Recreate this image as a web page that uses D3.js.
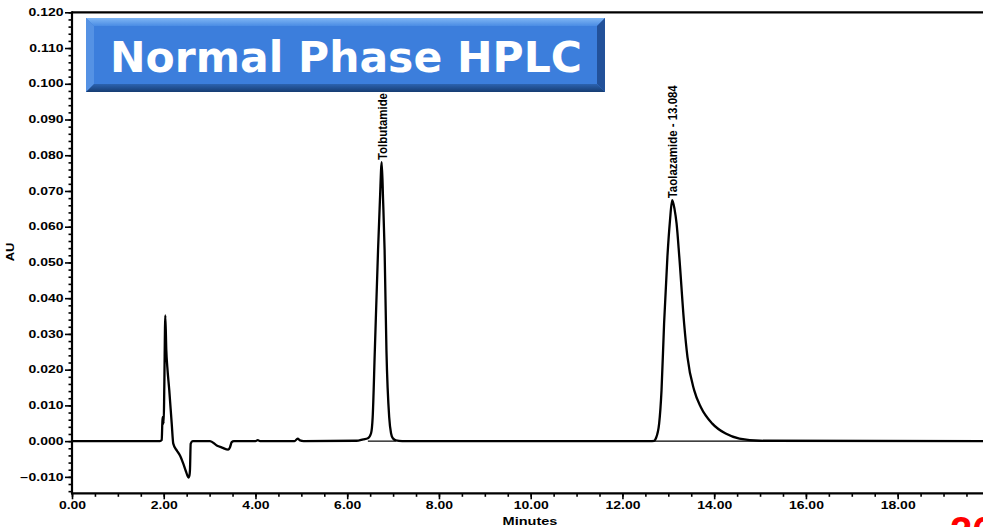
<!DOCTYPE html>
<html><head><meta charset="utf-8">
<script src="https://cdn.jsdelivr.net/npm/d3@7"></script>
<style>body{margin:0;background:#fff;overflow:hidden} svg{display:block}</style>
</head><body>
<svg id="c" width="983" height="527"></svg>
<script>
// ---- data ----
const times = [0, 1.0, 1.918, 1.956, 1.969, 1.977, 1.999, 2.012, 2.034, 2.056, 2.078, 2.121, 2.174, 2.208, 2.283, 2.354, 2.426, 2.485, 2.540, 2.562, 2.572, 2.588, 2.631,
  3.009, 3.155, 3.270, 3.407, 3.445, 3.482, 3.530, 4.00, 4.05, 4.10, 4.85, 4.92, 4.97, 5.05,
  6.20, 6.35, 6.45, 6.52, 6.555, 6.602, 6.672, 6.713, 6.752, 6.782, 6.815, 6.855, 6.915, 6.955, 6.995, 7.06, 7.20,
  12.60, 12.69, 12.73, 12.80, 12.852, 12.908, 12.98, 13.035, 13.084, 13.135, 13.18, 13.24, 13.345, 13.418, 13.565, 13.71, 13.96, 14.25, 14.55, 15.00, 20.0];
const absorbance = [0, 0, 0, 0.0003, 0.0050, 0.0067, 0.0049, 0.0150, 0.0352, 0.0254, 0.0207, 0.0142, 0.0049, -0.0007, -0.0026, -0.0040, -0.0063, -0.0085, -0.0102, -0.0095, -0.0080, -0.0007, 0,
  0, -0.0012, -0.0018, -0.0024, -0.0017, -0.0003, 0, 0, 0.0003, 0, 0, 0.0007, 0.0002, 0,
  0.0001, 0.0005, 0.0008, 0.0022, 0.0067, 0.0254, 0.0534, 0.0674, 0.0781, 0.0674, 0.0534, 0.0254, 0.0067, 0.0022, 0.0008, 0.0002, 0,
  0, 0.0001, 0.0008, 0.0049, 0.0142, 0.0329, 0.0515, 0.0615, 0.0674, 0.0650, 0.0609, 0.0515, 0.0329, 0.0235, 0.0142, 0.0095, 0.0049, 0.0021, 0.0007, 0.0001, 0];
const peakNames = ["Tolbutamide", "Taolazamide - 13.084"];
const peakTimes = [6.752, 13.084];
const peakHeights = [0.0781, 0.0674];
const peakStarts = [6.45, 12.67];
const peakEnds = [7.06, 15.0];
const xTickValues = [0, 2, 4, 6, 8, 10, 12, 14, 16, 18];
const yTickValues = [-0.010, 0.000, 0.010, 0.020, 0.030, 0.040, 0.050, 0.060, 0.070, 0.080, 0.090, 0.100, 0.110, 0.120];
const titleText = "Normal Phase HPLC";
const xAxisLabel = "Minutes";
const yAxisLabel = "AU";
const pageNumber = "26";

// ---- layout ----
const svg = d3.select("#c");
const L = 72, T = 12.3, B = 493.3;
const x = d3.scaleLinear().domain([0, 20]).range([L, L + 20 * 45.87]);
const y = d3.scaleLinear().domain([-0.0146, 0.120]).range([B, T]);
const SX = 1.4;
const fontAx = "'Liberation Sans', Arial, sans-serif";

// frame top line
svg.append("line").attr("x1", L).attr("x2", 983).attr("y1", T).attr("y2", T)
  .attr("stroke", "#000").attr("stroke-width", 2.2);

// y axis
const yMinor = d3.range(-0.014, 0.1201, 0.002).map(v => +v.toFixed(3));
const gy = svg.append("g").attr("transform", `translate(${L},0)`);
gy.call(d3.axisLeft(y).tickValues(yMinor).tickSize(3.5).tickFormat(""));
gy.call(g => g.selectAll(".tick line").attr("stroke-width", 1.6));
const gyM = svg.append("g").attr("transform", `translate(${L},0)`)
  .call(d3.axisLeft(y).tickValues(yTickValues).tickSize(7).tickFormat(d3.format(".3f")));
gyM.selectAll(".tick line").attr("stroke-width", 1.6);
gyM.selectAll(".tick text").attr("font-family", fontAx).attr("font-weight", "bold").attr("font-size", 10)
  .attr("x", -8.5 / SX).attr("transform", `scale(${SX},1)`).attr("fill", "#000");
svg.selectAll(".domain").remove();
svg.append("line").attr("x1", L).attr("x2", L).attr("y1", T - 1).attr("y2", B + 1)
  .attr("stroke", "#000").attr("stroke-width", 2.2);

// x axis
const xMinor = d3.range(0, 20.01, 0.5);
const gx = svg.append("g").attr("transform", `translate(0,${B})`)
  .call(d3.axisBottom(x).tickValues(xMinor).tickSize(3.5).tickFormat(""));
gx.selectAll(".tick line").attr("stroke-width", 1.6);
const gxM = svg.append("g").attr("transform", `translate(0,${B})`)
  .call(d3.axisBottom(x).tickValues(xTickValues).tickSize(6).tickFormat(d3.format(".2f")));
gxM.selectAll(".tick line").attr("stroke-width", 1.6);
gxM.selectAll(".tick text").attr("font-family", fontAx).attr("font-weight", "bold").attr("font-size", 10)
  .attr("y", 9).attr("transform", `scale(${SX},1)`).attr("fill", "#000");
svg.selectAll(".domain").remove();
svg.append("line").attr("x1", L - 1).attr("x2", 983).attr("y1", B).attr("y2", B)
  .attr("stroke", "#000").attr("stroke-width", 2.2);

// axis labels
svg.append("text").attr("transform", `translate(530,525) scale(1.32,1)`).attr("text-anchor", "middle")
  .attr("font-family", fontAx).attr("font-weight", "bold").attr("font-size", 11).text(xAxisLabel);
svg.append("text").attr("transform", `translate(14,252) rotate(-90) scale(1.3,1)`).attr("text-anchor", "middle")
  .attr("font-family", fontAx).attr("font-weight", "bold").attr("font-size", 10).text(yAxisLabel);

// integration baselines
svg.append("g").selectAll("line").data(peakStarts).join("line")
  .attr("x1", d => x(d)).attr("x2", (d, i) => x(peakEnds[i]))
  .attr("y1", y(0)).attr("y2", y(0)).attr("stroke", "#000").attr("stroke-width", 1.2);

// chromatogram
const pts = times.map((t, i) => [t, absorbance[i]]);
svg.append("path").datum(pts)
  .attr("d", d3.line().x(d => x(d[0])).y(d => y(d[1])).curve(d3.curveMonotoneX))
  .attr("fill", "none").attr("stroke", "#000").attr("stroke-width", 2.3).attr("stroke-linejoin", "round");

// peak labels
svg.append("g").selectAll("text").data(peakNames).join("text")
  .attr("transform", (d, i) => `translate(${x(peakTimes[i]) + 5},${y(peakHeights[i]) - 2}) rotate(-90)`)
  .attr("font-family", fontAx).attr("font-weight", "bold").attr("font-size", 13.5)
  .attr("textLength", (d, i) => i === 0 ? 67 : 113).attr("lengthAdjust", "spacingAndGlyphs")
  .text(d => d);

// title box with bevel
const bx0 = 86, by0 = 18, bx1 = 605, by1 = 92, bv = 8;
const defs = svg.append("defs");
const gt = defs.append("linearGradient").attr("id", "gTop").attr("x1", 0).attr("y1", 0).attr("x2", 0).attr("y2", 1);
gt.append("stop").attr("offset", 0).attr("stop-color", "#7fb6f4");
gt.append("stop").attr("offset", 1).attr("stop-color", "#4a8ce4");
const gb = defs.append("linearGradient").attr("id", "gBot").attr("x1", 0).attr("y1", 0).attr("x2", 0).attr("y2", 1);
gb.append("stop").attr("offset", 0).attr("stop-color", "#2c63b0");
gb.append("stop").attr("offset", 1).attr("stop-color", "#163c72");
const title = svg.append("g");
title.append("rect").attr("x", bx0).attr("y", by0).attr("width", bx1 - bx0).attr("height", by1 - by0).attr("fill", "#3c7edc");
const poly = (p, f) => title.append("polygon").attr("points", p.map(q => q.join(",")).join(" ")).attr("fill", f);
poly([[bx0, by0], [bx1, by0], [bx1 - bv, by0 + bv], [bx0 + bv, by0 + bv]], "url(#gTop)");
poly([[bx0, by0], [bx0 + bv, by0 + bv], [bx0 + bv, by1 - bv], [bx0, by1]], "#5592e4");
poly([[bx1, by0], [bx1, by1], [bx1 - bv, by1 - bv], [bx1 - bv, by0 + bv]], "#22519a");
poly([[bx0, by1], [bx1, by1], [bx1 - bv, by1 - bv], [bx0 + bv, by1 - bv]], "url(#gBot)");
title.append("text").attr("x", 110).attr("y", 72).attr("fill", "#fff")
  .attr("font-family", "'DejaVu Sans', Verdana, sans-serif").attr("font-weight", "bold").attr("font-size", 42)
  .attr("textLength", 472).attr("lengthAdjust", "spacingAndGlyphs").text(titleText);

// page number (cropped by the slide edge, as in the reference)
svg.append("text").attr("x", 950).attr("y", 545).attr("fill", "#ff0000")
  .attr("font-family", fontAx).attr("font-weight", "bold").attr("font-size", 40).text(pageNumber);
</script>
</body></html>
